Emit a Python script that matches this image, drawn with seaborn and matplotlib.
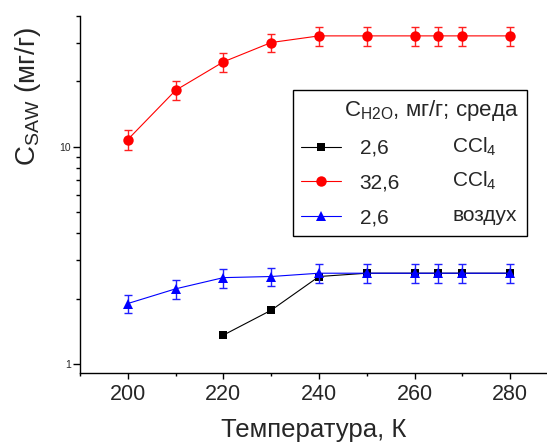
import matplotlib
matplotlib.use("Agg")
import matplotlib.pyplot as plt
from matplotlib.ticker import MultipleLocator, LogLocator, NullFormatter, FixedLocator, FixedFormatter
from matplotlib.lines import Line2D
import seaborn as sns
import pandas as pd

# ---- data ----
temps = [200, 210, 220, 230, 240, 250, 260, 265, 270, 280]
red_vals = [10.8, 18.2, 24.6, 30.2, 32.4, 32.4, 32.4, 32.4, 32.4, 32.4]
red_err = [1.1, 1.8, 2.5, 3.0, 3.2, 3.2, 3.2, 3.2, 3.2, 3.2]
blue_vals = [1.90, 2.22, 2.50, 2.53, 2.62, 2.62, 2.62, 2.62, 2.62, 2.62]
blue_err = [0.19, 0.22, 0.25, 0.25, 0.26, 0.26, 0.26, 0.26, 0.26, 0.26]
black_temps = [220, 230, 240, 250, 260, 265, 270, 280]
black_vals = [1.36, 1.77, 2.53, 2.62, 2.62, 2.62, 2.62, 2.62]

legend_numbers = ["2,6", "32,6", "2,6"]
legend_media = ["CCl$_{\\mathregular{4}}$", "CCl$_{\\mathregular{4}}$", "воздух"]
legend_title = "C$_{\\mathregular{H2O}}$, мг/г; среда"
xlabel = "Температура, К"
ylabel = "C$_{\\mathregular{SAW}}$ (мг/г)"
xticks = [200, 220, 240, 260, 280]

sns.set_style("ticks")
plt.rcParams["font.family"] = ["Liberation Sans", "DejaVu Sans"]
plt.rcParams["mathtext.fontset"] = "custom"
plt.rcParams["mathtext.rm"] = "Liberation Sans"
plt.rcParams["mathtext.it"] = "Liberation Sans:italic"
plt.rcParams["mathtext.bf"] = "Liberation Sans:bold"

W, H = 547, 447
fig = plt.figure(figsize=(W / 100, H / 100), dpi=100)
def fx(p): return p / W
def fy(p): return 1 - p / H
ax = fig.add_axes([fx(80), fy(373), fx(547) - fx(80), fy(16) - fy(373)])

df_black = pd.DataFrame({"T": black_temps, "C": black_vals})
df_red = pd.DataFrame({"T": temps, "C": red_vals})
df_blue = pd.DataFrame({"T": temps, "C": blue_vals})

lw = 0.8
sns.lineplot(data=df_black, x="T", y="C", ax=ax, color="black", marker="s",
             markersize=5.5, markeredgewidth=0, linewidth=lw, zorder=3)
ax.errorbar(temps, red_vals, yerr=red_err, fmt="none", ecolor="#ff2020",
            elinewidth=1, capsize=2.8, capthick=1, zorder=2)
sns.lineplot(data=df_red, x="T", y="C", ax=ax, color="#ff0000", marker="o",
             markersize=7.5, markeredgewidth=0, linewidth=lw, zorder=3)
ax.errorbar(temps, blue_vals, yerr=blue_err, fmt="none", ecolor="#2020ff",
            elinewidth=1, capsize=2.8, capthick=1, zorder=4)
sns.lineplot(data=df_blue, x="T", y="C", ax=ax, color="#0000ff", marker="^",
             markersize=7.5, markeredgewidth=0, linewidth=lw, zorder=5)

ax.set_yscale("log")
ax.set_xlim(190, 287.7)
ax.set_ylim(0.91, 40)
ax.xaxis.set_major_locator(FixedLocator(xticks))
ax.xaxis.set_minor_locator(MultipleLocator(10))
ax.yaxis.set_major_locator(FixedLocator([1, 10]))
ax.yaxis.set_major_formatter(FixedFormatter(["1", "10"]))
ax.yaxis.set_minor_locator(LogLocator(base=10, subs=range(2, 10)))
ax.yaxis.set_minor_formatter(NullFormatter())

for s in ["top", "right"]:
    ax.spines[s].set_visible(False)
for s in ["left", "bottom"]:
    ax.spines[s].set_linewidth(1.0)
    ax.spines[s].set_color("black")

ax.tick_params(axis="x", which="major", direction="out", length=4, width=1,
               labelsize=15.5, pad=4, color="black")
ax.tick_params(axis="x", which="minor", direction="out", length=2.5, width=1, color="black")
ax.tick_params(axis="y", which="major", direction="out", length=5, width=1,
               labelsize=7.5, pad=1.5, color="black")
ax.tick_params(axis="y", which="minor", direction="out", length=3, width=1, color="black")

ax.set_xlabel(xlabel, fontsize=18.5, labelpad=9)
ax.set_ylabel(ylabel, fontsize=20)
ax.yaxis.set_label_coords(-0.08, 0.773)
ax.grid(False)

# legend: handles + numbers as entries, medium column added as text
handles = [
    Line2D([], [], color="black", marker="s", markersize=5.5, markeredgewidth=0, linewidth=lw),
    Line2D([], [], color="#ff0000", marker="o", markersize=7.5, markeredgewidth=0, linewidth=lw),
    Line2D([], [], color="#0000ff", marker="^", markersize=7.5, markeredgewidth=0, linewidth=lw),
]
leg = ax.legend(handles, legend_numbers, title=legend_title,
                loc="upper left", mode="expand",
                bbox_to_anchor=(fx(293), fy(227), fx(527) - fx(293), fy(90) - fy(227)),
                bbox_transform=fig.transFigure, frameon=True, fancybox=False,
                edgecolor="black", framealpha=1, fontsize=15, title_fontsize=16,
                handlelength=1.9, handletextpad=0.9, labelspacing=0.75,
                borderpad=0.4, borderaxespad=0, alignment="right")
leg.get_frame().set_linewidth(1.0)

fig.canvas.draw()
renderer = fig.canvas.get_renderer()
inv = fig.transFigure.inverted()
for h, med in zip(leg.legend_handles, legend_media):
    bb = h.get_window_extent(renderer)
    yc = inv.transform(((bb.x0 + bb.x1) / 2, (bb.y0 + bb.y1) / 2))[1]
    fig.text(fx(452), yc, med, ha="left", va="center", fontsize=15)

fig.savefig("out.png", dpi=100)
